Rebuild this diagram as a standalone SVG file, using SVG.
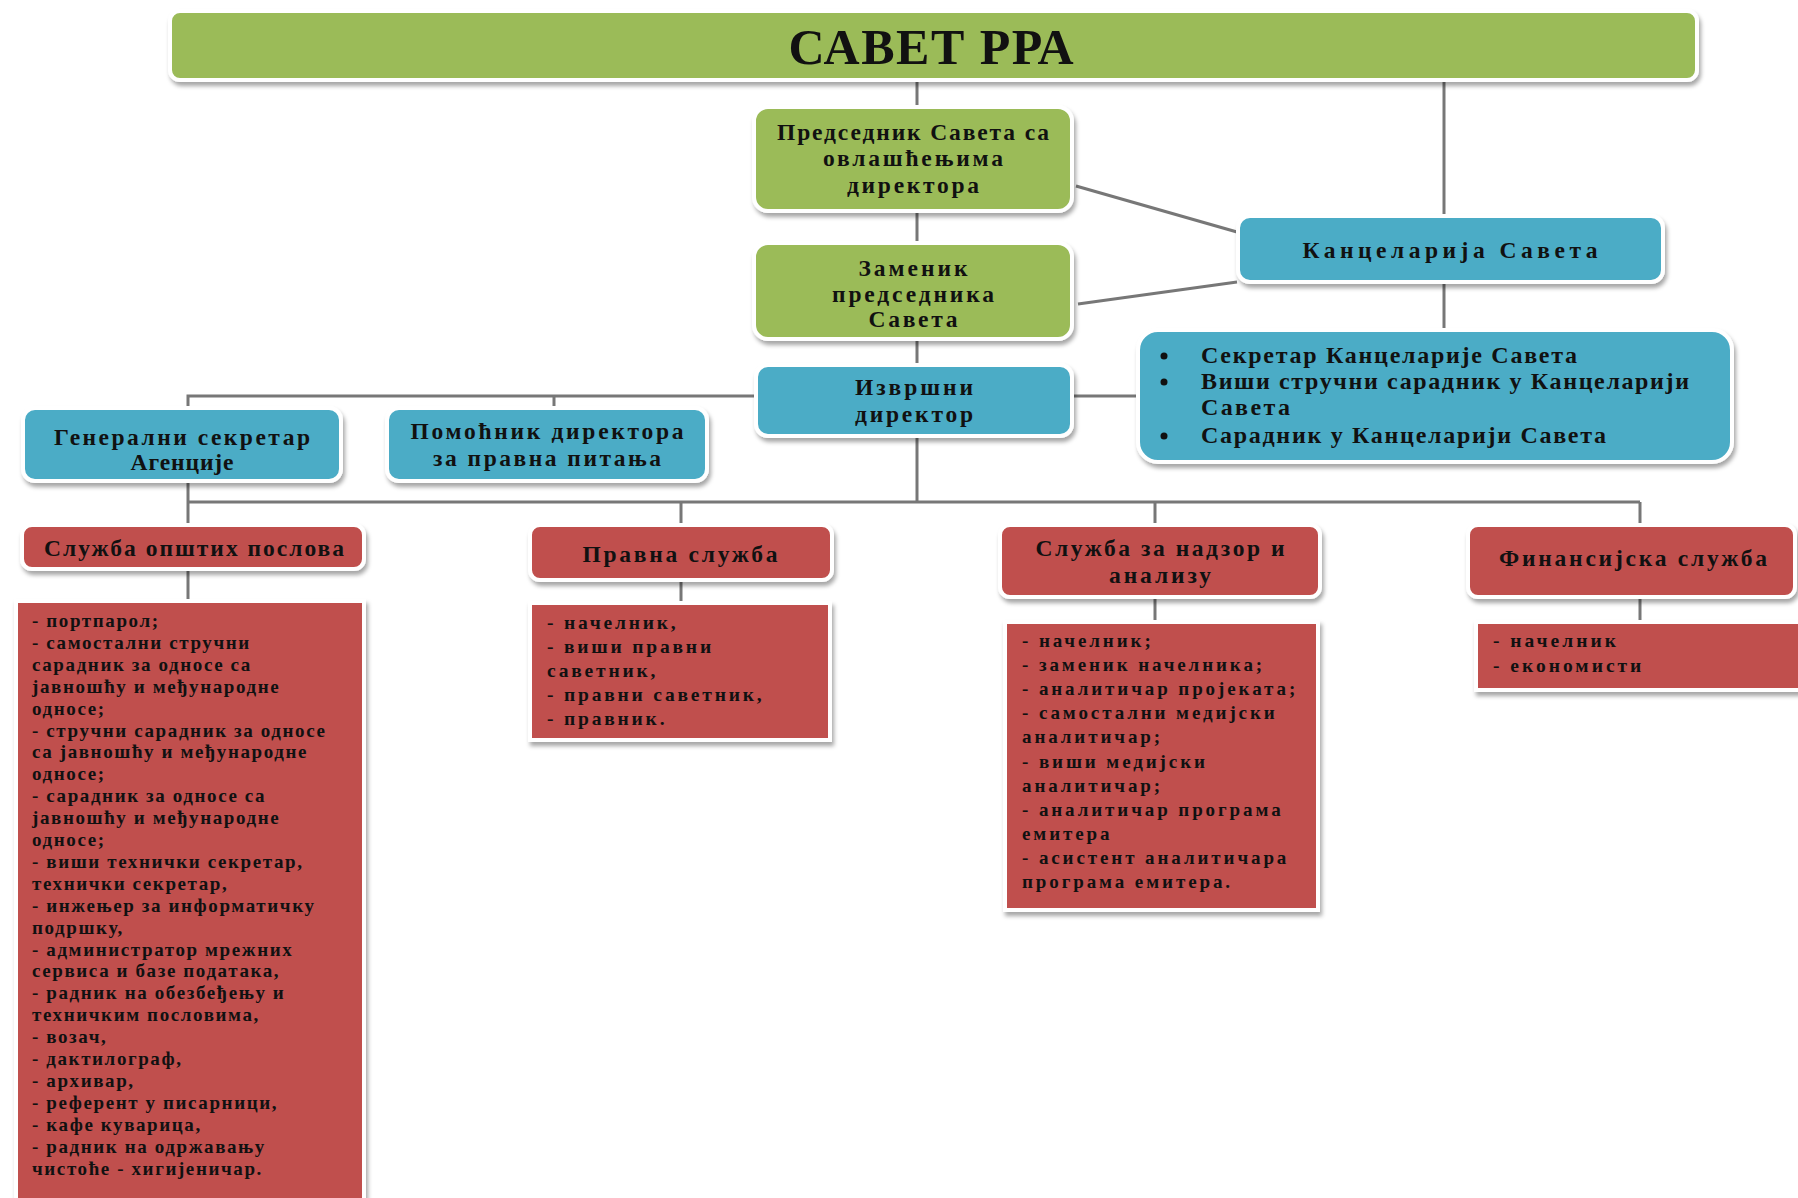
<svg xmlns="http://www.w3.org/2000/svg" width="1798" height="1198" viewBox="0 0 1798 1198">
<defs>
<filter id="sh" x="-10%" y="-10%" width="125%" height="135%">
<feDropShadow dx="2" dy="4" stdDeviation="2" flood-color="#000" flood-opacity="0.35"/>
</filter>
<style>
.g{fill:#9BBB59;stroke:#fff;stroke-width:4;filter:url(#sh)}
.b{fill:#4BACC6;stroke:#fff;stroke-width:4;filter:url(#sh)}
.r{fill:#C0504D;stroke:#fff;stroke-width:4;filter:url(#sh)}
.c{stroke:#777;stroke-width:3;fill:none}
text{font-family:"Liberation Serif","DejaVu Serif",serif;font-weight:bold;fill:#111}
.t{font-size:23.5px;text-anchor:middle}
.bl{font-size:24px}
.l1{font-size:19px;letter-spacing:1.6px}
.l2{font-size:19.5px;letter-spacing:2.8px}
.l3{font-size:19px;letter-spacing:2.9px}
.l4{font-size:19.5px;letter-spacing:3px}
</style>
</defs>
<rect width="1798" height="1198" fill="#fff"/>
<g id="connectors">
<line class="c" x1="917" y1="82" x2="917" y2="108"/>
<line class="c" x1="917" y1="210" x2="917" y2="244"/>
<line class="c" x1="917" y1="338" x2="917" y2="366"/>
<line class="c" x1="917" y1="435" x2="917" y2="502"/>
<line class="c" x1="1444" y1="82" x2="1444" y2="217"/>
<line class="c" x1="1444" y1="281" x2="1444" y2="331"/>
<line class="c" x1="1076" y1="186" x2="1237" y2="232"/>
<line class="c" x1="1078" y1="304" x2="1237" y2="282"/>
<line class="c" x1="1071" y1="396" x2="1139" y2="396"/>
<polyline class="c" points="757,396 188,396 188,409"/>
<line class="c" x1="554" y1="396" x2="554" y2="409"/>
<line class="c" x1="188" y1="480" x2="188" y2="526"/>
<line class="c" x1="188" y1="502" x2="1640" y2="502"/>
<line class="c" x1="681" y1="502" x2="681" y2="526"/>
<line class="c" x1="1155" y1="502" x2="1155" y2="526"/>
<line class="c" x1="1640" y1="502" x2="1640" y2="526"/>
<line class="c" x1="188" y1="568" x2="188" y2="602"/>
<line class="c" x1="681" y1="579" x2="681" y2="604"/>
<line class="c" x1="1155" y1="596" x2="1155" y2="623"/>
<line class="c" x1="1640" y1="596" x2="1640" y2="623"/>
</g>
<g id="savet">
<rect class="g" x="170" y="11" width="1527" height="69" rx="10"/>
<text x="931" y="64" text-anchor="middle" font-size="50" textLength="285">САВЕТ РРА</text>
</g>
<g id="predsednik">
<rect class="g" x="754" y="107" width="318" height="104" rx="14"/>
<text class="t" x="913" y="140" textLength="272">Председник Савета са</text>
<text class="t" x="913" y="166" textLength="180">овлашћењима</text>
<text class="t" x="913" y="193" textLength="132">директора</text>
</g>
<g id="zamenik">
<rect class="g" x="754" y="243" width="318" height="96" rx="14"/>
<text class="t" x="913" y="276" textLength="109">Заменик</text>
<text class="t" x="913" y="302" textLength="162">председника</text>
<text class="t" x="913" y="327" textLength="89">Савета</text>
</g>
<g id="izvrsni">
<rect class="b" x="756" y="365" width="316" height="71" rx="12"/>
<text class="t" x="914" y="395" textLength="118">Извршни</text>
<text class="t" x="914" y="422" textLength="118">директор</text>
</g>
<g id="kancelarija">
<rect class="b" x="1238" y="216" width="425" height="66" rx="12"/>
<text class="t" x="1450" y="258" font-size="26" textLength="295">Канцеларија Савета</text>
</g>
<g id="kancelarija-list">
<rect class="b" x="1138" y="330" width="594" height="132" rx="20"/>
<circle cx="1164" cy="356" r="3.5" fill="#111"/>
<circle cx="1164" cy="382" r="3.5" fill="#111"/>
<circle cx="1164" cy="436" r="3.5" fill="#111"/>
<text class="bl" x="1201" y="363" textLength="376">Секретар Канцеларије Савета</text>
<text class="bl" x="1201" y="389" textLength="488">Виши стручни сарадник у Канцеларији</text>
<text class="bl" x="1201" y="415" textLength="89">Савета</text>
<text class="bl" x="1201" y="443" textLength="405">Сарадник у Канцеларији Савета</text>
</g>
<g id="generalni">
<rect class="b" x="23" y="408" width="318" height="73" rx="12"/>
<text class="t" x="182" y="445" textLength="256">Генерални секретар</text>
<text class="t" x="182" y="470" textLength="103">Агенције</text>
</g>
<g id="pomocnik">
<rect class="b" x="387" y="408" width="320" height="73" rx="12"/>
<text class="t" x="547" y="439" textLength="273">Помоћник директора</text>
<text class="t" x="547" y="466" textLength="228">за правна питања</text>
</g>
<g id="sluzba-opstih">
<rect class="r" x="22" y="525" width="342" height="44" rx="10"/>
<text class="t" x="194" y="556" textLength="300">Служба општих послова</text>
</g>
<g id="sluzba-opstih-list">
<rect class="r" x="16" y="601" width="348" height="610"/>
<text class="l1" x="32" y="627">- портпарол;</text>
<text class="l1" x="32" y="648.9">- самостални стручни</text>
<text class="l1" x="32" y="670.8">сарадник за односе са</text>
<text class="l1" x="32" y="692.7">јавношћу и међународне</text>
<text class="l1" x="32" y="714.6">односе;</text>
<text class="l1" x="32" y="736.5">- стручни сарадник за односе</text>
<text class="l1" x="32" y="758.4">са јавношћу и међународне</text>
<text class="l1" x="32" y="780.3">односе;</text>
<text class="l1" x="32" y="802.2">- сарадник за односе са</text>
<text class="l1" x="32" y="824.1">јавношћу и међународне</text>
<text class="l1" x="32" y="846">односе;</text>
<text class="l1" x="32" y="867.9">- виши технички секретар,</text>
<text class="l1" x="32" y="889.8">технички секретар,</text>
<text class="l1" x="32" y="911.7">- инжењер за информатичку</text>
<text class="l1" x="32" y="933.6">подршку,</text>
<text class="l1" x="32" y="955.5">- администратор мрежних</text>
<text class="l1" x="32" y="977.4">сервиса и базе података,</text>
<text class="l1" x="32" y="999.3">- радник на обезбеђењу и</text>
<text class="l1" x="32" y="1021.2">техничким пословима,</text>
<text class="l1" x="32" y="1043.1">- возач,</text>
<text class="l1" x="32" y="1065">- дактилограф,</text>
<text class="l1" x="32" y="1086.9">- архивар,</text>
<text class="l1" x="32" y="1108.8">- референт у писарници,</text>
<text class="l1" x="32" y="1130.7">- кафе куварица,</text>
<text class="l1" x="32" y="1152.6">- радник на одржавању</text>
<text class="l1" x="32" y="1174.5">чистоће - хигијеничар.</text>
</g>
<g id="pravna">
<rect class="r" x="530" y="525" width="302" height="55" rx="10"/>
<text class="t" x="680" y="562" textLength="195">Правна служба</text>
</g>
<g id="pravna-list">
<rect class="r" x="530" y="603" width="300" height="137"/>
<text class="l2" x="547" y="629">- начелник,</text>
<text class="l2" x="547" y="653">- виши правни</text>
<text class="l2" x="547" y="677">саветник,</text>
<text class="l2" x="547" y="701">- правни саветник,</text>
<text class="l2" x="547" y="725">- правник.</text>
</g>
<g id="nadzor">
<rect class="r" x="1000" y="525" width="320" height="72" rx="10"/>
<text class="t" x="1160" y="556" textLength="249">Служба за надзор и</text>
<text class="t" x="1160" y="583" textLength="102">анализу</text>
</g>
<g id="nadzor-list">
<rect class="r" x="1005" y="622" width="313" height="288"/>
<text class="l3" x="1022" y="647">- начелник;</text>
<text class="l3" x="1022" y="671.1">- заменик начелника;</text>
<text class="l3" x="1022" y="695.2">- аналитичар пројеката;</text>
<text class="l3" x="1022" y="719.3">- самостални медијски</text>
<text class="l3" x="1022" y="743.4">аналитичар;</text>
<text class="l3" x="1022" y="767.5">- виши медијски</text>
<text class="l3" x="1022" y="791.6">аналитичар;</text>
<text class="l3" x="1022" y="815.7">- аналитичар програма</text>
<text class="l3" x="1022" y="839.8">емитера</text>
<text class="l3" x="1022" y="863.9">- асистент аналитичара</text>
<text class="l3" x="1022" y="888">програма емитера.</text>
</g>
<g id="finansijska">
<rect class="r" x="1468" y="525" width="327" height="72" rx="10"/>
<text class="t" x="1633" y="566" textLength="268">Финансијска служба</text>
</g>
<g id="finansijska-list">
<rect class="r" x="1476" y="622" width="330" height="68"/>
<text class="l4" x="1493" y="647">- начелник</text>
<text class="l4" x="1493" y="672">- економисти</text>
</g>
</svg>
